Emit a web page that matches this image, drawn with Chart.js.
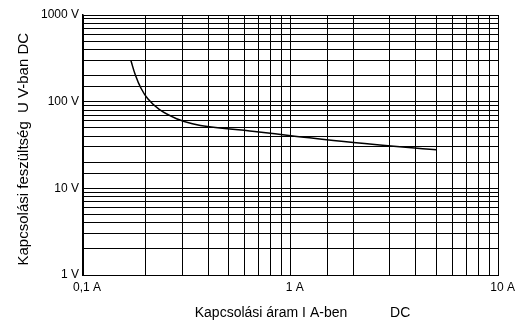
<!DOCTYPE html>
<html>
<head>
<meta charset="utf-8">
<script src="https://cdn.jsdelivr.net/npm/chart.js@4"></script>
<style>
  html, body { margin: 0; padding: 0; background: #fff; }
</style>
</head>
<body>
<canvas id="relayChart" width="516" height="325"></canvas>
<script>
// curve (current in A, voltage in V)
const currentA = [0.170, 0.179, 0.1895, 0.205, 0.2335, 0.282, 0.336, 0.405, 0.703, 1.0, 2.0, 5.0];
const voltageV = [298, 200, 145, 108, 80.8, 63.6, 55.7, 51.4, 44.7, 40.5, 33.8, 27.9];

// only these ticks get a label, the rest are bare grid lines
const xLabelValues = [0.1, 1, 10];
const xLabelTexts = ['0,1 A', '1 A', '10 A'];
const yLabelValues = [1, 10, 100, 1000];
const yLabelTexts = ['1 V', '10 V', '100 V', '1000 V'];

const fontFamily = "'Liberation Sans', Arial, sans-serif";

function labelFor(value, values, texts) {
    for (let i = 0; i < values.length; i++) {
        if (Math.abs(value - values[i]) < values[i] * 1e-6) return texts[i];
    }
    return '';
}

const points = currentA.map((a, i) => ({ x: a, y: voltageV[i] }));

const ctx = document.getElementById('relayChart').getContext('2d');
const chart = new Chart(ctx, {
    type: 'line',
    data: {
        datasets: [{
            data: points,
            borderColor: '#000',
            borderWidth: 1.5,
            pointRadius: 0,
            fill: false,
            tension: 0.4
        }]
    },
    options: {
        responsive: false,
        animation: false,
        layout: { padding: { top: 15, right: 15, left: 0, bottom: 0 } },
        plugins: {
            legend: { display: false },
            tooltip: { enabled: false }
        },
        scales: {
            x: {
                type: 'logarithmic',
                min: 0.1,
                max: 10,
                grid: { color: '#000', lineWidth: 1, drawTicks: false },
                border: { color: '#000', width: 1 },
                ticks: {
                    autoSkip: false,
                    maxRotation: 0,
                    padding: 5,
                    labelOffset: 4,
                    color: '#000',
                    font: { family: fontFamily, size: 12 },
                    callback: (v) => labelFor(v, xLabelValues, xLabelTexts)
                },
                title: {
                    display: true,
                    text: '      Kapcsolási áram I A-ben           DC',
                    color: '#000',
                    font: { family: fontFamily, size: 14 },
                    padding: { top: 0, bottom: 3 }
                },
                afterFit: (scale) => { scale.height = 50; }
            },
            y: {
                type: 'logarithmic',
                min: 1,
                max: 1000,
                grid: { color: '#000', lineWidth: 1, drawTicks: false },
                border: { color: '#000', width: 1.5 },
                ticks: {
                    autoSkip: false,
                    padding: 4,
                    color: '#000',
                    font: { family: fontFamily, size: 12 },
                    callback: (v) => labelFor(v, yLabelValues, yLabelTexts)
                },
                title: {
                    display: true,
                    text: 'Kapcsolási feszültség  U V-ban DC  ',
                    color: '#000',
                    font: { family: fontFamily, size: 15 },
                    padding: { top: 15, bottom: 0 }
                },
                afterFit: (scale) => { scale.width = 83; }
            }
        }
    }
});
</script>
</body>
</html>
